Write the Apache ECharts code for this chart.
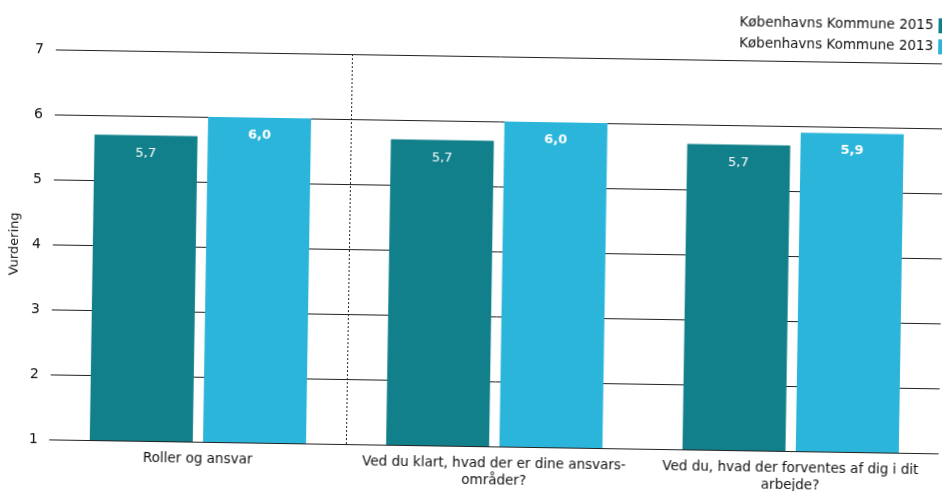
<!DOCTYPE html>
<html>
<head>
<meta charset="utf-8">
<script src="https://cdn.jsdelivr.net/npm/echarts@6/dist/echarts.min.js"></script>
<style>
  html, body { margin: 0; padding: 0; background: #fff; overflow: hidden; }
  #chart { width: 942px; height: 491px; transform: rotate(0.9deg); transform-origin: 50% 50%; }
</style>
</head>
<body>
<div id="chart"></div>
<script>
// Questions (categories) and average ratings per year
const categories = [
  'Roller og ansvar',
  'Ved du klart, hvad der er dine ansvars-\nområder?',
  'Ved du, hvad der forventes af dig i dit\narbejde?'
];
const seriesNames = ['Københavns Kommune 2015', 'Københavns Kommune 2013'];
const values2015 = [5.7, 5.7, 5.7];
const values2013 = [6.0, 6.0, 5.9];
const yTicks = [1, 2, 3, 4, 5, 6, 7];
// Dotted separator after the first (summary) group, in category-boundary units
const separatorAt = 1;

const FONT = 'DejaVu Sans, Verdana, sans-serif';
const fmt = p => p.value.toFixed(1).replace('.', ',');

const chart = echarts.init(document.getElementById('chart'), null, { renderer: 'canvas' });
chart.setOption({
  backgroundColor: '#ffffff',
  animation: false,
  textStyle: { fontFamily: FONT },
  legend: {
    orient: 'vertical',
    left: 731,
    top: 6,
    align: 'right',
    icon: 'rect',
    itemWidth: 16,
    itemHeight: 15,
    itemGap: 6,
    textStyle: { fontFamily: FONT, fontSize: 13.5, color: '#111' },
    data: seriesNames
  },
  grid: { left: 50, top: 56, width: 900, height: 390 },
  xAxis: [
    {
      type: 'category',
      data: categories,
      axisTick: { show: false },
      axisLine: { show: true, lineStyle: { color: '#222', width: 1 } },
      axisLabel: { fontFamily: FONT, fontSize: 13.5, color: '#111', margin: 9, lineHeight: 17, interval: 0 },
      splitLine: { show: false }
    },
    {
      // helper axis spanning the categories, used to place the separator
      type: 'value',
      min: 0,
      max: categories.length,
      show: false
    }
  ],
  yAxis: {
    type: 'value',
    min: yTicks[0],
    max: yTicks[yTicks.length - 1],
    interval: 1,
    name: 'Vurdering',
    nameLocation: 'middle',
    nameGap: 19,
    nameTextStyle: { fontFamily: FONT, fontSize: 13, color: '#111' },
    axisLine: { show: false },
    axisTick: { show: false },
    axisLabel: { fontFamily: FONT, fontSize: 14, color: '#111', margin: 12 },
    splitLine: { show: true, lineStyle: { color: '#222', width: 1 } }
  },
  series: [
    {
      name: seriesNames[0],
      type: 'bar',
      data: values2015,
      barWidth: 103,
      barGap: '10%',
      itemStyle: { color: '#11808a' },
      label: {
        show: true, position: 'insideTop', distance: 12,
        formatter: fmt, color: '#fff', fontFamily: FONT, fontSize: 13
      }
    },
    {
      name: seriesNames[1],
      type: 'bar',
      data: values2013,
      barWidth: 103,
      itemStyle: { color: '#2cb5da' },
      label: {
        show: true, position: 'insideTop', distance: 11,
        formatter: fmt, color: '#fff', fontFamily: FONT, fontSize: 13, fontWeight: 'bold'
      }
    },
    {
      name: 'separator',
      type: 'line',
      xAxisIndex: 1,
      data: [],
      silent: true,
      markLine: {
        silent: true,
        symbol: ['none', 'none'],
        label: { show: false },
        lineStyle: { color: '#222', type: [2, 2], width: 1 },
        data: [{ xAxis: separatorAt }]
      }
    }
  ]
});
</script>
</body>
</html>
